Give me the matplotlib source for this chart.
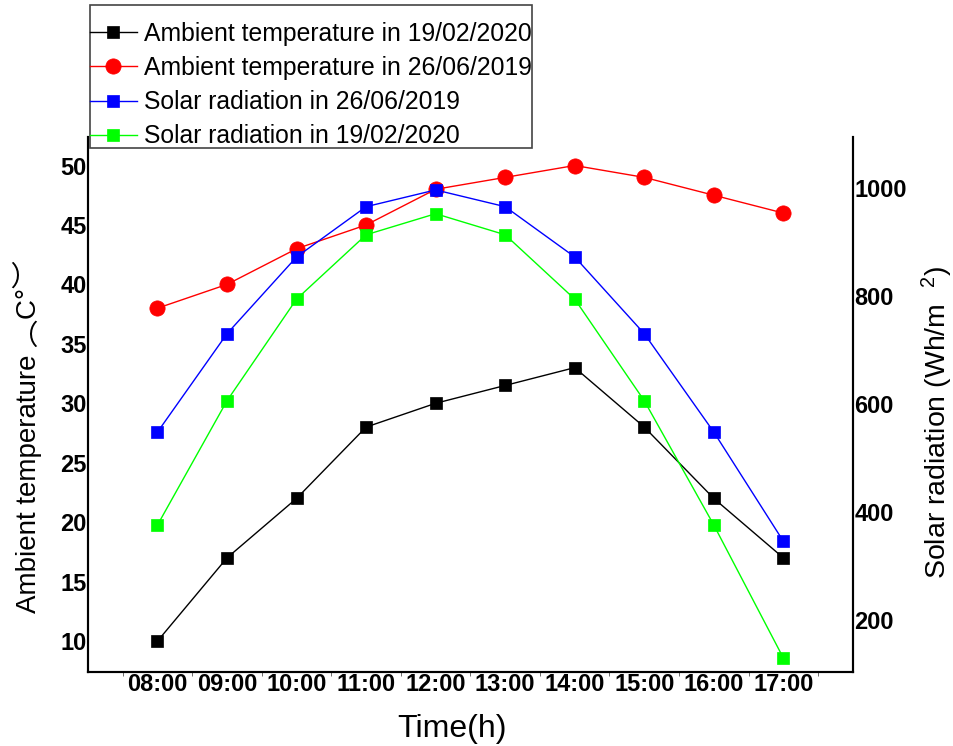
import matplotlib
matplotlib.use("Agg")
import matplotlib.pyplot as plt
from matplotlib import font_manager
from matplotlib.patches import Rectangle

# data
hours = ["08:00", "09:00", "10:00", "11:00", "12:00", "13:00", "14:00", "15:00", "16:00", "17:00"]
temp_feb = [10, 17, 22, 28, 30, 31.5, 33, 28, 22, 17]
temp_jun = [38, 40, 43, 45, 48, 49, 50, 49, 47.5, 46]
rad_jun = [548, 730, 872, 965, 996, 965, 872, 730, 548, 346]
rad_feb = [376, 606, 794, 913, 952, 913, 794, 606, 376, 130]

LABEL_FEB_T = "Ambient temperature in 19/02/2020"
LABEL_JUN_T = "Ambient temperature in 26/06/2019"
LABEL_JUN_R = "Solar radiation in 26/06/2019"
LABEL_FEB_R = "Solar radiation in 19/02/2020"

names = {f.name for f in font_manager.fontManager.ttflist}
NARROW = "Liberation Sans Narrow" if "Liberation Sans Narrow" in names else "Liberation Sans"
XT_SIZE = 21.5 if NARROW == "Liberation Sans Narrow" else 17

plt.rcParams["font.family"] = ["Liberation Sans", "Noto Sans CJK SC", "DejaVu Sans"]
plt.rcParams["mathtext.fontset"] = "custom"
plt.rcParams["mathtext.rm"] = "Liberation Sans"
plt.rcParams["mathtext.it"] = "Liberation Sans:italic"

W, H = 954, 746
fig = plt.figure(figsize=(W / 100, H / 100), dpi=100)
ax = fig.add_axes([0.0922, 0.0992, 0.8018, 0.7172])
ax2 = ax.twinx()

x = list(range(len(hours)))

l1, = ax.plot(x, temp_feb, color="black", lw=1, marker="s", ms=9, mew=0.5, label=LABEL_FEB_T)
l2, = ax.plot(x, temp_jun, color="red", lw=1, marker="o", ms=11, mew=0.5, label=LABEL_JUN_T)
l3, = ax2.plot(x, rad_jun, color="blue", lw=1, marker="s", ms=9, mew=0.5, label=LABEL_JUN_R)
l4, = ax2.plot(x, rad_feb, color="#00ff00", lw=1, marker="s", ms=9, mew=0.5, label=LABEL_FEB_R)

ax.set_xlim(-1, 10)
ax.set_ylim(7.4, 52.4)
ax2.set_ylim(104, 1094)
ax.set_yticks([10, 15, 20, 25, 30, 35, 40, 45, 50])
ax2.set_yticks([200, 400, 600, 800, 1000])

ax.set_xticks(x)
ax.set_xticklabels(hours, fontfamily=NARROW, fontweight="bold", fontsize=XT_SIZE)
ax.set_xticks([i - 0.5 for i in range(len(hours) + 1)], minor=True)
ax.tick_params(axis="x", which="major", length=0, pad=1)
ax.tick_params(axis="x", which="minor", length=3, direction="out", color="#555555")
ax.tick_params(axis="y", length=0, pad=1, labelsize=17)
ax2.tick_params(axis="y", length=0, pad=1, labelsize=17)
for lab in ax.get_yticklabels() + ax2.get_yticklabels():
    lab.set_fontweight("bold")

for a in (ax, ax2):
    a.spines["top"].set_visible(False)
    for s in ("left", "right", "bottom"):
        a.spines[s].set_linewidth(1.5)

ax.set_xlabel("Time(h)", fontsize=23, fontfamily=NARROW)
ax.xaxis.set_label_coords(0.476, -0.078)
ax.set_ylabel("Ambient temperature \ufe35C°\ufe36", fontsize=20)
ax.yaxis.set_label_coords(-0.060, 0.439)
ax2.set_ylabel("Solar radiation (Wh/m  $^{2}$)", fontsize=20.5)
ax2.yaxis.set_label_coords(1.087, 0.467)

# legend box drawn by hand so the rows sit lower inside it, as in the reference
box = Rectangle((90 / W, 1 - 148 / H), 442 / W, 143 / H, transform=fig.transFigure,
                facecolor="white", edgecolor="#444444", lw=1.2, zorder=4)
fig.add_artist(box)
leg = fig.legend([l1, l2, l3, l4], [LABEL_FEB_T, LABEL_JUN_T, LABEL_JUN_R, LABEL_FEB_R],
                 loc="upper left", bbox_to_anchor=(90 / W, 1 - 22 / H),
                 fontsize=17.8, frameon=False, borderaxespad=0, borderpad=0,
                 labelspacing=0.41, handlelength=1.9, handletextpad=0.3)
leg.set_zorder(5)

fig.savefig("out.png", dpi=100)
